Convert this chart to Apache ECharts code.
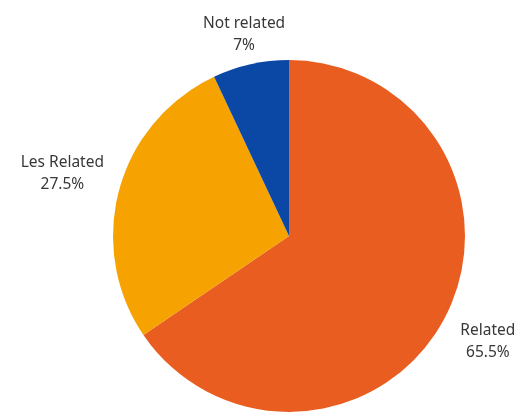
<!DOCTYPE html>
<html>
<head>
<meta charset="utf-8">
<script src="https://cdn.jsdelivr.net/npm/echarts@6/dist/echarts.min.js"></script>
<style>html,body{margin:0;padding:0;background:#fff}#c{width:520px;height:412px}</style>
</head>
<body>
<div id="c"></div>
<script>
const categories = ['Related', 'Les Related', 'Not related'];
const values = [65.5, 27.5, 7];
const labelTexts = ['65.5%', '27.5%', '7%'];
const colors = ['#EA5D21', '#F6A302', '#0B48A6'];

const CX = 289, CY = 236, R = 176;
const labelDist = [225, 235, 206];

const total = values.reduce((a, b) => a + b, 0);
const midAngles = [];
let acc = 0;
values.forEach(v => { midAngles.push((acc + v / 2) / total * 2 * Math.PI); acc += v; });

const chart = echarts.init(document.getElementById('c'), null, { renderer: 'canvas' });
chart.setOption({
  animation: false,
  backgroundColor: '#ffffff',
  series: [{
    type: 'pie',
    center: [CX, CY],
    radius: [0, R],
    startAngle: 90,
    clockwise: true,
    avoidLabelOverlap: false,
    itemStyle: { borderWidth: 0 },
    label: {
      show: true,
      position: 'outside',
      formatter: p => p.name + '\n' + labelTexts[p.dataIndex],
      fontFamily: 'Noto Sans',
      fontSize: 15.5,
      lineHeight: 22,
      color: '#383838',
      align: 'center'
    },
    labelLine: { show: false },
    labelLayout: function (p) {
      const i = p.dataIndex;
      const a = midAngles[i];
      return {
        x: CX + Math.sin(a) * labelDist[i],
        y: CY - Math.cos(a) * labelDist[i],
        align: 'center',
        verticalAlign: 'middle'
      };
    },
    data: categories.map((c, i) => ({ name: c, value: values[i], itemStyle: { color: colors[i] } }))
  }]
});
</script>
</body>
</html>
